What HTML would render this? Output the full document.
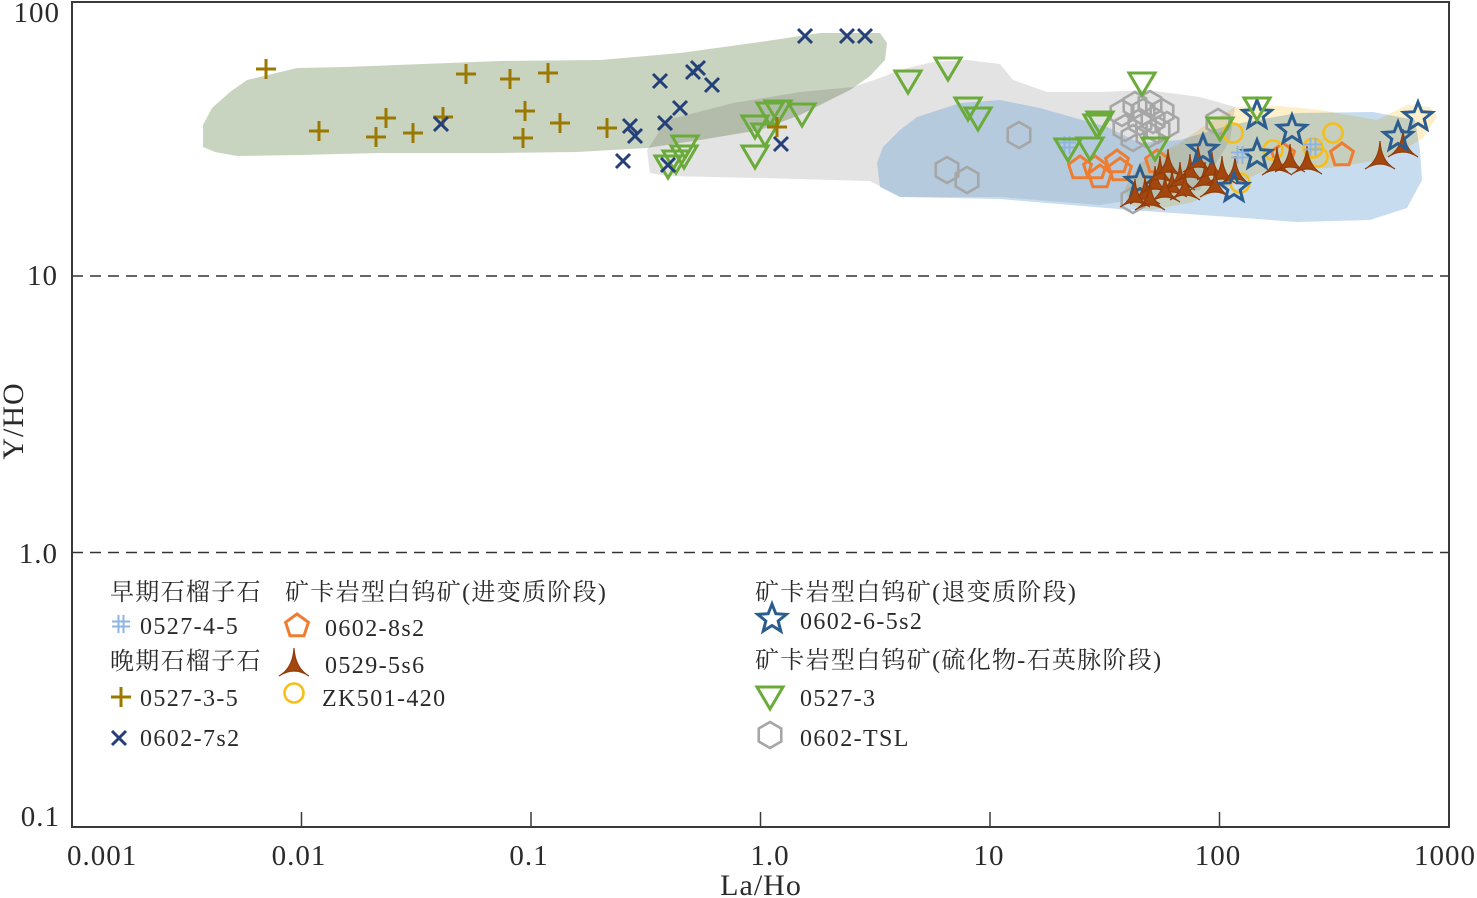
<!DOCTYPE html>
<html><head><meta charset="utf-8"><style>
html,body{margin:0;padding:0;background:#fff;}
svg{display:block;}
.ax{font-family:"Liberation Serif",serif;font-size:29px;fill:#2a2a2a;letter-spacing:1px;}
.lg{font-family:"Liberation Serif","Noto Serif CJK SC",serif;font-size:24px;fill:#2a2a2a;letter-spacing:1.4px;}
.cn{font-family:"Liberation Serif","Noto Serif CJK SC","Noto Sans CJK SC",serif;font-size:24px;fill:#2a2a2a;letter-spacing:1.3px;}
</style></head><body>
<svg width="1477" height="898" viewBox="0 0 1477 898" xmlns="http://www.w3.org/2000/svg">
<defs>
<path id="plus" d="M-10,0H10M0,-10V10" stroke="#9b7800" stroke-width="3" fill="none"/>
<path id="xx" d="M-7,-7L7,7M-7,7L7,-7" stroke="#253f78" stroke-width="3" fill="none"/>
<polygon id="tri" points="-13,-9 13,-9 0,13" stroke="#6aab3a" stroke-width="3" fill="none" stroke-linejoin="miter"/>
<polygon id="hex" points="0,-13 11.26,-6.5 11.26,6.5 0,13 -11.26,6.5 -11.26,-6.5" stroke="#a6a6a6" stroke-width="2.6" fill="none"/>
<polygon id="pent" points="0,-12 11.41,-3.71 7.05,9.71 -7.05,9.71 -11.41,-3.71" stroke="#ed7d31" stroke-width="3" fill="none"/>
<circle id="circ" r="9.5" stroke="#f5bf1a" stroke-width="2.6" fill="none"/>
<path id="tstar" d="M0,-16Q1,4 15,12Q0,2 -15,12Q-1,4 0,-16Z" fill="#a4470f" stroke="#8e3c0a" stroke-width="1.2" stroke-linejoin="miter"/>
<polygon id="star" points="0,-15 3.82,-5.26 14.27,-4.64 6.18,2.01 8.82,12.14 0,6.5 -8.82,12.14 -6.18,2.01 -14.27,-4.64 -3.82,-5.26" stroke="#2b5d8f" stroke-width="3" fill="none" stroke-linejoin="miter"/>
<path id="hash" d="M-2.5,-9V9M2.5,-9V9M-9,-2.5H9M-9,2.5H9" stroke="#8db4e2" stroke-width="2" fill="none"/>
</defs>

<!-- dashed grid -->
<line x1="72" y1="276" x2="1449" y2="276" stroke="#333" stroke-width="1.5" stroke-dasharray="11 7"/>
<line x1="72" y1="552.5" x2="1449" y2="552.5" stroke="#333" stroke-width="1.5" stroke-dasharray="11 7"/>

<!-- regions -->
<polygon points="647,150 667,120 733,103 800,92 853,87 880,78 900,70 933,62 967,60 1000,64 1013,80 1047,92 1100,92 1147,90 1200,97 1235,107 1230,140 1200,190 1100,205 1000,197 900,197 870,181 760,178 667,176 650,173" fill="#e3e3e3"/>
<polygon style="mix-blend-mode:multiply" points="203,147 203,125 212,108 230,92 247,80 297,68 345,67 500,61 600,60 680,53 760,42 820,33 880,33 887,43 885,60 870,76 850,90 800,115 760,130 700,140 647,148 577,152 500,153 380,153 300,155 237,156 215,152" fill="#c9d4c0"/>
<polygon points="880,187 877,163 883,147 900,130 917,117 960,103 1000,100 1040,108 1107,127 1140,143 1180,140 1230,125 1297,113 1373,112 1415,120 1420,150 1422,180 1407,208 1370,220 1297,222 1230,217 1130,210 1000,199 900,197" fill="rgb(110,163,216)" fill-opacity="0.38"/>
<polygon style="mix-blend-mode:multiply" opacity="0.85" points="1130,205 1125,188 1140,163 1180,143 1210,122 1235,107 1280,106 1320,110 1377,120 1407,105 1430,107 1437,117 1423,138 1400,152 1380,160 1330,168 1263,172 1220,190 1190,203 1150,210" fill="#fdecc0"/>

<!-- series -->
<g>
<use href="#hex" x="947" y="170"/><use href="#hex" x="967" y="180"/><use href="#hex" x="1019" y="135"/>
<use href="#hex" x="1122" y="113"/><use href="#hex" x="1135" y="105"/><use href="#hex" x="1150" y="104"/>
<use href="#hex" x="1162" y="112"/><use href="#hex" x="1125" y="128"/><use href="#hex" x="1140" y="122"/>
<use href="#hex" x="1153" y="120"/><use href="#hex" x="1167" y="125"/><use href="#hex" x="1133" y="138"/>
<use href="#hex" x="1148" y="135"/><use href="#hex" x="1143" y="112"/><use href="#hex" x="1158" y="130"/>
<use href="#hex" x="1218" y="122"/><use href="#hex" x="1133" y="200"/>
</g>
<g>
<use href="#pent" x="1080" y="168"/><use href="#pent" x="1095" y="168"/><use href="#pent" x="1100" y="177"/>
<use href="#pent" x="1117" y="162"/><use href="#pent" x="1120" y="170"/><use href="#pent" x="1157" y="162"/>
<use href="#pent" x="1283" y="155"/><use href="#pent" x="1342" y="155"/>
</g>
<g>
<use href="#circ" x="1233" y="133"/><use href="#circ" x="1240" y="183"/><use href="#circ" x="1273" y="150"/>
<use href="#circ" x="1313" y="148"/><use href="#circ" x="1318" y="157"/><use href="#circ" x="1333" y="133"/>
</g>
<g>
<use href="#star" x="1140" y="182"/>
<use href="#tstar" x="1145" y="192"/><use href="#tstar" x="1155" y="182"/><use href="#tstar" x="1160" y="172"/>
<use href="#tstar" x="1168" y="165"/><use href="#tstar" x="1172" y="185"/><use href="#tstar" x="1180" y="178"/>
<use href="#tstar" x="1165" y="190"/><use href="#tstar" x="1190" y="170"/><use href="#tstar" x="1198" y="160"/>
<use href="#tstar" x="1205" y="178"/><use href="#tstar" x="1212" y="168"/><use href="#tstar" x="1222" y="172"/>
<use href="#tstar" x="1215" y="185"/><use href="#tstar" x="1235" y="172"/><use href="#tstar" x="1185" y="188"/>
<use href="#tstar" x="1150" y="198"/><use href="#tstar" x="1135" y="195"/><use href="#tstar" x="1277" y="163"/><use href="#tstar" x="1290" y="160"/>
<use href="#tstar" x="1307" y="162"/><use href="#tstar" x="1380" y="157"/><use href="#tstar" x="1403" y="145"/>
</g>
<g>
<use href="#star" x="1203" y="150"/><use href="#star" x="1257" y="115"/><use href="#star" x="1257" y="155"/>
<use href="#star" x="1234" y="188"/><use href="#star" x="1292" y="130"/><use href="#star" x="1398" y="137"/>
<use href="#star" x="1418" y="117"/>
</g>
<g>
<use href="#hash" x="1067" y="145"/><use href="#hash" x="1240" y="155"/><use href="#hash" x="1313" y="147"/>
</g>
<g>
<use href="#tri" x="668" y="165"/><use href="#tri" x="676" y="160"/><use href="#tri" x="684" y="155"/>
<use href="#tri" x="685" y="145"/><use href="#tri" x="755" y="125"/><use href="#tri" x="755" y="155"/>
<use href="#tri" x="765" y="133"/><use href="#tri" x="770" y="112"/><use href="#tri" x="778" y="110"/>
<use href="#tri" x="802" y="113"/><use href="#tri" x="908" y="80"/><use href="#tri" x="948" y="67"/>
<use href="#tri" x="968" y="107"/><use href="#tri" x="978" y="117"/><use href="#tri" x="1068" y="148"/>
<use href="#tri" x="1090" y="147"/><use href="#tri" x="1097" y="124"/><use href="#tri" x="1100" y="121"/>
<use href="#tri" x="1142" y="82"/><use href="#tri" x="1155" y="147"/><use href="#tri" x="1220" y="127"/>
<use href="#tri" x="1257" y="107"/>
</g>
<g>
<use href="#plus" x="266" y="69"/><use href="#plus" x="319" y="131"/><use href="#plus" x="386" y="118"/>
<use href="#plus" x="376" y="137"/><use href="#plus" x="413" y="133"/><use href="#plus" x="443" y="117"/>
<use href="#plus" x="466" y="74"/><use href="#plus" x="510" y="79"/><use href="#plus" x="548" y="73"/>
<use href="#plus" x="525" y="111"/><use href="#plus" x="523" y="138"/><use href="#plus" x="560" y="123"/>
<use href="#plus" x="607" y="128"/><use href="#plus" x="777" y="127"/>
</g>
<g>
<use href="#xx" x="441" y="124"/><use href="#xx" x="805" y="36"/><use href="#xx" x="847" y="36"/>
<use href="#xx" x="865" y="36"/><use href="#xx" x="660" y="81"/><use href="#xx" x="693" y="72"/>
<use href="#xx" x="698" y="68"/><use href="#xx" x="712" y="85"/><use href="#xx" x="680" y="108"/>
<use href="#xx" x="665" y="123"/><use href="#xx" x="630" y="126"/><use href="#xx" x="635" y="136"/>
<use href="#xx" x="623" y="161"/><use href="#xx" x="668" y="165"/><use href="#xx" x="781" y="144"/>
</g>

<!-- frame & ticks -->
<rect x="72" y="2" width="1377" height="825" fill="none" stroke="#3a3a3a" stroke-width="2"/>
<g stroke="#3a3a3a" stroke-width="1.5">
<line x1="301.5" y1="827" x2="301.5" y2="812"/>
<line x1="531" y1="827" x2="531" y2="812"/>
<line x1="760.5" y1="827" x2="760.5" y2="812"/>
<line x1="990" y1="827" x2="990" y2="812"/>
<line x1="1219.5" y1="827" x2="1219.5" y2="812"/>
</g>

<!-- axis labels -->
<text class="ax" x="60" y="22" text-anchor="end">100</text>
<text class="ax" x="58" y="285" text-anchor="end">10</text>
<text class="ax" x="58" y="563" text-anchor="end">1.0</text>
<text class="ax" x="60" y="826" text-anchor="end">0.1</text>

<text class="ax" x="67" y="865">0.001</text>
<text class="ax" x="299" y="865" text-anchor="middle">0.01</text>
<text class="ax" x="529" y="865" text-anchor="middle">0.1</text>
<text class="ax" x="770" y="865" text-anchor="middle">1.0</text>
<text class="ax" x="989" y="865" text-anchor="middle">10</text>
<text class="ax" x="1218" y="865" text-anchor="middle">100</text>
<text class="ax" x="1445" y="865" text-anchor="middle">1000</text>

<text class="ax" x="761" y="895" text-anchor="middle" style="font-size:30px">La/Ho</text>
<text class="ax" x="0" y="0" text-anchor="middle" style="font-size:30px" transform="translate(23,421) rotate(-90)">Y/HO</text>

<!-- legend -->
<text class="cn" x="110" y="600">早期石榴子石</text>
<text class="cn" x="285" y="600">矿卡岩型白钨矿(进变质阶段)</text>
<use href="#hash" x="121" y="624"/>
<text class="lg" x="140" y="634">0527-4-5</text>
<use href="#pent" x="297" y="626"/>
<text class="lg" x="325" y="636">0602-8s2</text>
<text class="cn" x="110" y="669">晚期石榴子石</text>
<use href="#tstar" x="294" y="664"/>
<text class="lg" x="325" y="673">0529-5s6</text>
<use href="#plus" x="121" y="697"/>
<text class="lg" x="140" y="706">0527-3-5</text>
<use href="#circ" x="294" y="693"/>
<text class="lg" x="322" y="706">ZK501-420</text>
<use href="#xx" x="119" y="738"/>
<text class="lg" x="140" y="746">0602-7s2</text>

<text class="cn" x="755" y="600">矿卡岩型白钨矿(退变质阶段)</text>
<use href="#star" x="772" y="619"/>
<text class="lg" x="800" y="629">0602-6-5s2</text>
<text class="cn" x="755" y="668">矿卡岩型白钨矿(硫化物-石英脉阶段)</text>
<use href="#tri" x="770" y="696"/>
<text class="lg" x="800" y="706">0527-3</text>
<use href="#hex" x="770" y="735"/>
<text class="lg" x="800" y="746">0602-TSL</text>
</svg>
</body></html>
